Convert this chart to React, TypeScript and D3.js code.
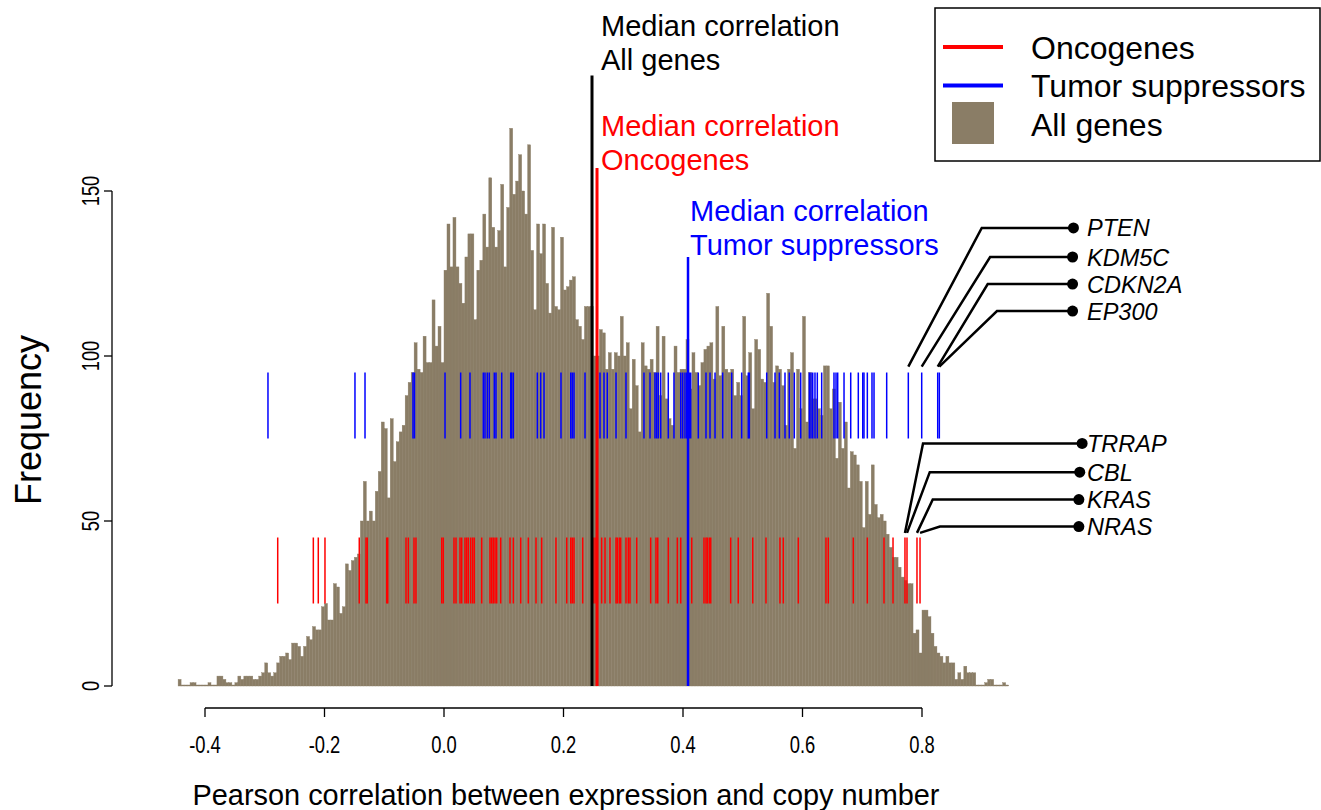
import React, { useEffect, useRef } from 'react';
import * as d3 from 'd3';

// histogram of all genes: bins of 0.005 starting at -0.445
const binStart = -0.445;
const binWidth = 0.005;
const allGeneCounts = [
  2, 0, 0, 0, 1, 1, 0, 0, 0, 0, 1, 0, 0, 3, 3, 2, 1, 1, 0, 1,
  3, 2, 3, 3, 3, 2, 2, 3, 4, 7, 4, 3, 4, 7, 9, 9, 10, 8, 13, 13,
  12, 9, 12, 15, 14, 18, 17,
  17, 24, 25, 20, 20, 31, 30, 22, 24, 37, 35, 38, 39, 40, 50, 62, 50, 53, 50, 59,
  65, 80, 78, 57, 81, 68, 74, 77, 79, 88, 92, 95, 104, 96, 95, 106, 98, 98, 117, 103,
  109, 98, 126, 140, 127, 142,
  127, 122, 116, 130, 137, 137, 111, 126, 129, 143, 133, 154, 139, 133, 138, 152, 127, 145, 169, 149,
  153, 161, 150, 143, 164, 132, 114, 140, 131, 140, 122, 113, 139, 115, 114, 136, 120, 121, 123, 124,
  111, 109, 105, 115, 115,
  115, 100, 100, 108, 107, 96, 101, 96, 101, 100, 112, 100, 104, 84, 99, 91, 77, 104, 97, 96,
  99, 95, 109, 88, 106, 87, 81, 79, 103, 95, 96, 96, 105, 90, 101, 95, 91, 98, 102, 103,
  104, 93, 115, 94, 109, 96, 95,
  96, 88, 92, 88, 112, 94, 101, 84, 105, 102, 93, 92, 119, 109, 92, 97, 96, 91, 79, 96,
  101, 72, 96, 84, 112, 80, 95, 87, 87, 84, 82, 97, 97, 84, 90, 69, 86, 72, 80, 60,
  71, 70, 67, 62, 48, 62, 52, 67, 55, 51, 52,
  50, 46, 42, 39, 39, 36, 33, 32, 31, 31, 16, 17, 10, 23, 23, 21, 16, 12, 10, 9,
  7, 9, 7, 7, 2, 4, 2, 6, 4, 4, 4, 0, 0, 0, 1, 2, 2, 0, 0, 0, 1, 0,
];

// rug of oncogenes (red) and tumor suppressors (blue)
const oncogeneCors = [
  -0.2783, -0.2187, -0.2104, -0.1992, -0.1418, -0.1305, -0.1284, -0.0959, -0.0942, -0.0636,
  -0.0597, -0.0502, -0.0469, -0.0038, -0.0012, 0.0167, 0.0201, 0.0268, 0.0296, 0.0351,
  0.038, 0.0407, 0.0447, 0.048, 0.0507, 0.0631, 0.077, 0.0798, 0.0825, 0.0854,
  0.0882, 0.0949, 0.1105, 0.116, 0.1284, 0.1411, 0.154, 0.1635, 0.1874, 0.2054,
  0.2121, 0.2147, 0.2176, 0.2321, 0.251, 0.2544, 0.2566, 0.2639, 0.2695, 0.2778,
  0.2879, 0.29, 0.2934, 0.2957, 0.3046, 0.3085, 0.3113, 0.3225, 0.3459, 0.3548,
  0.3577, 0.3754, 0.3905, 0.3962, 0.4146, 0.4351, 0.4385, 0.4407, 0.444, 0.4464,
  0.4798, 0.4925, 0.5167, 0.5389, 0.5623, 0.5679, 0.593, 0.6393, 0.6432, 0.685,
  0.7085, 0.7364, 0.7515, 0.7715, 0.7749, 0.7916, 0.7967,
];
const suppressorCors = [
  -0.2946, -0.149, -0.1322, -0.0519, -0.0494, 0.0017, 0.0279, 0.0435, 0.0658, 0.0686,
  0.0725, 0.0758, 0.0842, 0.087, 0.0966, 0.1116, 0.1133, 0.116, 0.1562, 0.1618,
  0.1674, 0.1958, 0.2121, 0.2147, 0.2176, 0.236, 0.2566, 0.2611, 0.2678, 0.2733,
  0.2879, 0.3046, 0.3347, 0.3448, 0.3531, 0.356, 0.3587, 0.3627, 0.3754, 0.3849,
  0.3962, 0.3995, 0.4033, 0.4062, 0.4105, 0.4129, 0.4256, 0.4385, 0.4452, 0.4536,
  0.4664, 0.4815, 0.4982, 0.5093, 0.511, 0.5401, 0.554, 0.5612, 0.5707, 0.5779,
  0.5863, 0.597, 0.6114, 0.6142, 0.6171, 0.6209, 0.6248, 0.6321, 0.6527, 0.6561,
  0.6589, 0.6695, 0.6807, 0.6934, 0.7008, 0.7029, 0.7085, 0.7163, 0.7197, 0.7409,
  0.7771, 0.7995, 0.8263, 0.829,
];

const medianAll = 0.2477;
const medianOnc = 0.2561;
const medianTs = 0.4084;

const xTicks = [-0.4, -0.2, 0.0, 0.2, 0.4, 0.6, 0.8];
const yTicks = [0, 50, 100, 150];

// labelled genes at the right side
const tsNames = ['PTEN', 'KDM5C', 'CDKN2A', 'EP300'];
const tsGeneCors = [0.7771, 0.7995, 0.8263, 0.829];
const tsLabelY = [138.8, 130, 121.8, 113.6];
const tsElbowX = [0.9, 0.914, 0.91, 0.9255];
const tsDotX = [1.0535, 1.052, 1.052, 1.052];

const oncNames = ['TRRAP', 'CBL', 'KRAS', 'NRAS'];
const oncGeneCors = [0.7715, 0.7749, 0.7916, 0.7967];
const oncLabelY = [73.5, 64.8, 56.5, 48.3];
const oncElbowX = [0.8017, 0.813, 0.818, 0.83];
const oncDotX = [1.068, 1.064, 1.0625, 1.0625];

const barColor = '#8a7d66';
const sans = '"Liberation Sans", Arial, Helvetica, sans-serif';

export default function App() {
  const ref = useRef<SVGSVGElement>(null);

  useEffect(() => {
    const svg = d3.select(ref.current);
    svg.selectAll('*').remove();

    const x = d3.scaleLinear().domain([-0.4, 0.8]).range([205, 922]);
    const y = d3.scaleLinear().domain([0, 150]).range([686, 191]);

    // bars
    svg.append('g')
      .selectAll('rect')
      .data(allGeneCounts)
      .enter()
      .append('rect')
      .attr('x', (d, i) => x(binStart + i * binWidth))
      .attr('width', x(binWidth) - x(0))
      .attr('y', d => Math.min(y(d), y(0) - 1))
      .attr('height', d => Math.max(y(0) - y(d), 1))
      .attr('fill', barColor)
      .attr('stroke', barColor)
      .attr('stroke-width', 0.4);

    // rug ticks
    const rug = (vals: number[], lo: number, hi: number, color: string) => {
      svg.append('g')
        .selectAll('line')
        .data(vals)
        .enter()
        .append('line')
        .attr('x1', d => x(d)).attr('x2', d => x(d))
        .attr('y1', y(lo)).attr('y2', y(hi))
        .attr('stroke', color)
        .attr('stroke-width', 1.5);
    };
    rug(suppressorCors, 75, 95, '#0000ff');
    rug(oncogeneCors, 25, 45, '#ff0000');

    // median lines
    const medians = [
      { v: medianAll, top: 185, color: '#000000', w: 3 },
      { v: medianOnc, top: 157, color: '#ff0000', w: 3 },
      { v: medianTs, top: 130, color: '#0000ff', w: 2.5 },
    ];
    medians.forEach(m => {
      svg.append('line')
        .attr('x1', x(m.v)).attr('x2', x(m.v))
        .attr('y1', y(0)).attr('y2', y(m.top))
        .attr('stroke', m.color)
        .attr('stroke-width', m.w);
    });

    // median labels
    const medianText = [
      { lines: ['Median correlation', 'All genes'], x: x(medianAll) + 9, y: 36, color: '#000000' },
      { lines: ['Median correlation', 'Oncogenes'], x: x(medianOnc) + 4, y: 136, color: '#ff0000' },
      { lines: ['Median correlation', 'Tumor suppressors'], x: x(medianTs) + 2, y: 221, color: '#0000ff' },
    ];
    medianText.forEach(t => {
      t.lines.forEach((s, j) => {
        svg.append('text')
          .attr('x', t.x)
          .attr('y', t.y + j * 34)
          .attr('fill', t.color)
          .style('font-family', sans)
          .style('font-size', '29px')
          .text(s);
      });
    });

    // x axis (narrow tick labels)
    const xAxis = svg.append('g');
    xAxis.append('line')
      .attr('x1', x(-0.4)).attr('x2', x(0.8))
      .attr('y1', 708).attr('y2', 708)
      .attr('stroke', '#000').attr('stroke-width', 1.3);
    xTicks.forEach(t => {
      xAxis.append('line')
        .attr('x1', x(t)).attr('x2', x(t))
        .attr('y1', 708).attr('y2', 717)
        .attr('stroke', '#000').attr('stroke-width', 1.3);
      xAxis.append('text')
        .attr('transform', `translate(${x(t)}, 753) scale(0.8, 1)`)
        .attr('text-anchor', 'middle')
        .style('font-family', sans)
        .style('font-size', '23px')
        .text(d3.format('.1f')(t).replace('−', '-'));
    });

    // y axis
    const yAxis = svg.append('g');
    yAxis.append('line')
      .attr('x1', 112).attr('x2', 112)
      .attr('y1', y(0)).attr('y2', y(150))
      .attr('stroke', '#000').attr('stroke-width', 1.3);
    yTicks.forEach(t => {
      yAxis.append('line')
        .attr('x1', 104).attr('x2', 112)
        .attr('y1', y(t)).attr('y2', y(t))
        .attr('stroke', '#000').attr('stroke-width', 1.3);
      yAxis.append('text')
        .attr('transform', `translate(99, ${y(t)}) rotate(-90) scale(0.8, 1)`)
        .attr('text-anchor', 'middle')
        .style('font-family', sans)
        .style('font-size', '23px')
        .text(String(t));
    });

    // axis titles
    svg.append('text')
      .attr('x', 566)
      .attr('y', 805)
      .attr('text-anchor', 'middle')
      .attr('textLength', 747)
      .attr('lengthAdjust', 'spacingAndGlyphs')
      .style('font-family', sans)
      .style('font-size', '29px')
      .text('Pearson correlation between expression and copy number');

    svg.append('text')
      .attr('transform', 'translate(41, 420) rotate(-90)')
      .attr('text-anchor', 'middle')
      .style('font-family', sans)
      .style('font-size', '36px')
      .text('Frequency');

    // gene labels with leader lines
    const labelTextX = 1.0762;
    const labelGroup = (names: string[], cors: number[], ly: number[], ex: number[], dx: number[], yEnd: number) => {
      names.forEach((n, i) => {
        const pts: [number, number][] = [
          [x(cors[i]), y(yEnd)],
          [x(ex[i]), y(ly[i])],
          [x(dx[i]), y(ly[i])],
        ];
        svg.append('path')
          .attr('d', d3.line()(pts))
          .attr('fill', 'none')
          .attr('stroke', '#000')
          .attr('stroke-width', 2.5);
        svg.append('circle')
          .attr('cx', x(dx[i])).attr('cy', y(ly[i]))
          .attr('r', 5.5)
          .attr('fill', '#000');
        svg.append('text')
          .attr('x', x(labelTextX))
          .attr('y', y(ly[i]) + 8.5)
          .style('font-family', sans)
          .style('font-style', 'italic')
          .style('font-size', '23.5px')
          .text(n);
      });
    };
    labelGroup(tsNames, tsGeneCors, tsLabelY, tsElbowX, tsDotX, 96.8);
    labelGroup(oncNames, oncGeneCors, oncLabelY, oncElbowX, oncDotX, 46.4);

    // legend
    const legend = svg.append('g');
    legend.append('rect')
      .attr('x', 935).attr('y', 8)
      .attr('width', 385).attr('height', 153)
      .attr('fill', '#fff')
      .attr('stroke', '#000')
      .attr('stroke-width', 1.5);
    const legendItems = [
      { label: 'Oncogenes', color: '#ff0000', kind: 'line' },
      { label: 'Tumor suppressors', color: '#0000ff', kind: 'line' },
      { label: 'All genes', color: barColor, kind: 'box' },
    ];
    legendItems.forEach((it, i) => {
      const cy = 47 + i * 38.5;
      if (it.kind === 'line') {
        legend.append('line')
          .attr('x1', 943).attr('x2', 1003)
          .attr('y1', cy).attr('y2', cy)
          .attr('stroke', it.color)
          .attr('stroke-width', 4);
      } else {
        legend.append('rect')
          .attr('x', 952).attr('y', cy - 22)
          .attr('width', 42).attr('height', 42)
          .attr('fill', it.color);
      }
      legend.append('text')
        .attr('x', 1031)
        .attr('y', cy + 11.5)
        .style('font-family', sans)
        .style('font-size', '32px')
        .text(it.label);
    });
  }, []);

  return (
    <svg
      ref={ref}
      width={1321}
      height={810}
      style={{ position: 'absolute', left: 0, top: 0, background: '#fff' }}
    />
  );
}
